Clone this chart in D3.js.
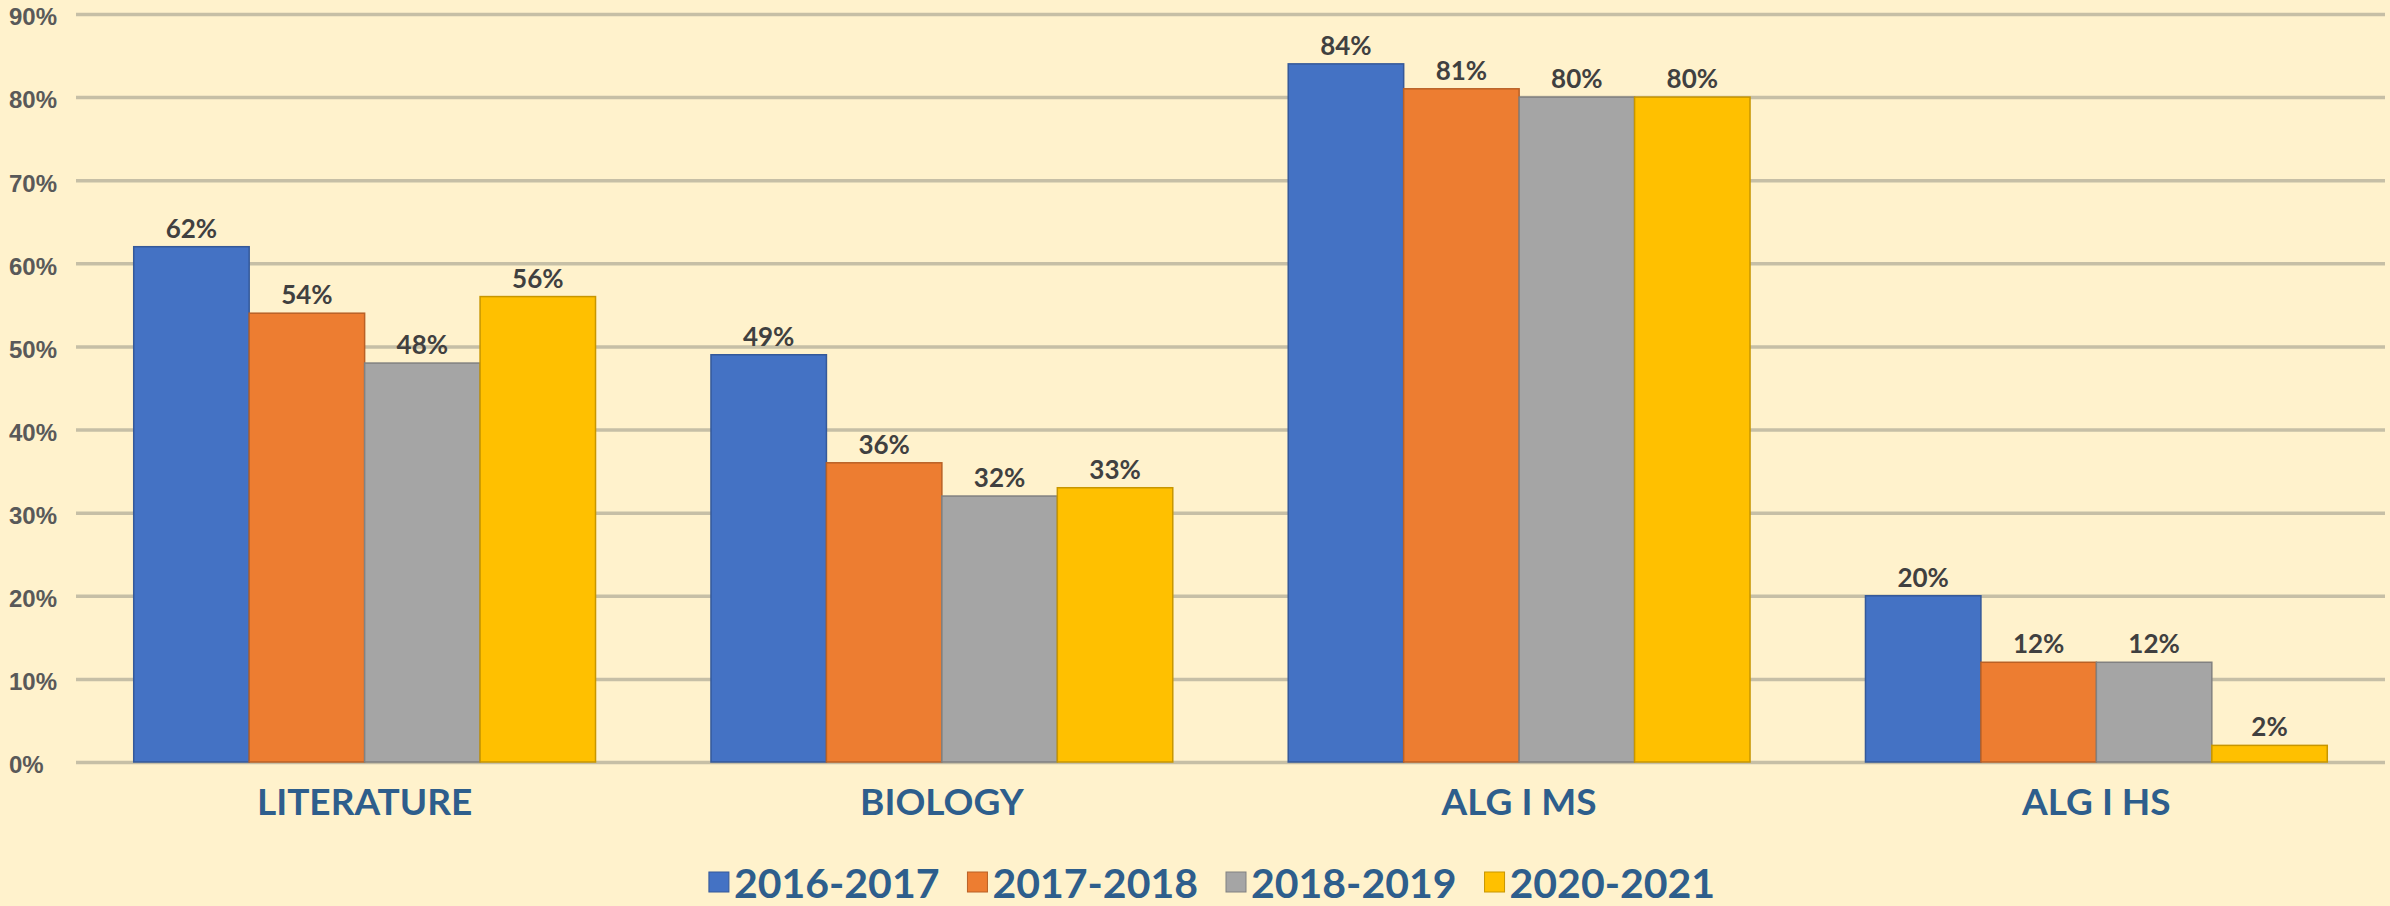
<!DOCTYPE html>
<html>
<head>
<meta charset="utf-8">
<script src="https://cdn.jsdelivr.net/npm/d3@7"></script>
<style>
  body { margin: 0; background: #FFF2CC; }
  svg { display: block; font-family: Lato, "Open Sans", sans-serif; }
</style>
</head>
<body>
<svg width="2390" height="906"></svg>
<script>
var categories = ["LITERATURE", "BIOLOGY", "ALG I MS", "ALG I HS"];
var seriesNames = ["2016-2017", "2017-2018", "2018-2019", "2020-2021"];
var colors = ["#4472C4", "#ED7D31", "#A5A5A5", "#FFC000"];
var values1617 = [62, 49, 84, 20];
var values1718 = [54, 36, 81, 12];
var values1819 = [48, 32, 80, 12];
var values2021 = [56, 33, 80, 2];
var yTicks = [0, 10, 20, 30, 40, 50, 60, 70, 80, 90];

var allValues = [values1617, values1718, values1819, values2021];

var svg = d3.select("svg"),
    margin = {top: 14, right: 5, bottom: 144, left: 76},
    width = +svg.attr("width") - margin.left - margin.right,
    height = +svg.attr("height") - margin.top - margin.bottom,
    g = svg.append("g").attr("transform", "translate(" + margin.left + "," + margin.top + ")");

svg.insert("rect", ":first-child")
    .attr("width", +svg.attr("width"))
    .attr("height", +svg.attr("height"))
    .attr("fill", "#FFF2CC");

var x0 = d3.scaleBand()
    .domain(categories)
    .range([0, width])
    .paddingInner(0.2)
    .paddingOuter(0.1);

var x1 = d3.scaleBand()
    .domain(seriesNames)
    .range([0, x0.bandwidth()]);

var y = d3.scaleLinear()
    .domain([0, 90])
    .range([height, 0]);

// gridlines + tick labels
var yAxis = g.append("g")
    .attr("class", "axis")
    .call(d3.axisLeft(y).tickValues(yTicks).tickSize(-width).tickFormat(function(d) { return d + "%"; }));
yAxis.select(".domain").remove();
yAxis.selectAll(".tick line")
    .attr("stroke", "#C6BFA6")
    .attr("stroke-width", 3.5);
yAxis.selectAll(".tick text")
    .attr("x", 9 - margin.left)
    .attr("dy", "0.45em")
    .attr("text-anchor", "start")
    .attr("fill", "#595959")
    .attr("font-size", 24)
    .attr("font-weight", "bold");

var groups = g.selectAll(".group")
    .data(categories)
  .enter().append("g")
    .attr("class", "group")
    .attr("transform", function(d) { return "translate(" + x0(d) + ",0)"; });

var cells = groups.selectAll(".cell")
    .data(function(d, i) {
      return seriesNames.map(function(s, j) { return {series: s, idx: j, value: allValues[j][i]}; });
    })
  .enter().append("g")
    .attr("class", "cell");

cells.append("rect")
    .attr("x", function(d) { return x1(d.series); })
    .attr("y", function(d) { return y(d.value); })
    .attr("width", x1.bandwidth())
    .attr("height", function(d) { return height - y(d.value); })
    .attr("fill", function(d) { return colors[d.idx]; })
    .attr("stroke", function(d) { return d3.color(colors[d.idx]).darker(0.7); })
    .attr("stroke-width", 1.5);

cells.append("text")
    .attr("x", function(d) { return x1(d.series) + x1.bandwidth() / 2; })
    .attr("y", function(d) { return y(d.value) - 9; })
    .attr("text-anchor", "middle")
    .attr("fill", "#404040")
    .attr("font-size", 26)
    .attr("font-weight", "bold")
    .text(function(d) { return d.value + "%"; });

groups.append("text")
    .attr("x", x0.bandwidth() / 2)
    .attr("y", height + 53)
    .attr("text-anchor", "middle")
    .attr("fill", "#2E5E8C")
    .attr("font-size", 37)
    .attr("font-weight", "bold")
    .text(function(d) { return d; });

// legend
var legend = svg.append("g").attr("class", "legend");
var item = legend.selectAll(".item")
    .data(seriesNames)
  .enter().append("g")
    .attr("class", "item");
item.append("rect")
    .attr("y", 872)
    .attr("width", 20)
    .attr("height", 20)
    .attr("fill", function(d, i) { return colors[i]; })
    .attr("stroke", function(d, i) { return d3.color(colors[i]).darker(0.7); })
    .attr("stroke-width", 1);
item.append("text")
    .attr("x", 25)
    .attr("y", 898)
    .attr("fill", "#2E5E8C")
    .attr("font-size", 41)
    .attr("font-weight", "bold")
    .text(function(d) { return d; });

var offset = 0, widths = [];
item.each(function() {
  widths.push(25 + this.querySelector("text").getComputedTextLength());
});
var total = d3.sum(widths) + 28 * (widths.length - 1);
var startX = 1212 - total / 2;
item.attr("transform", function(d, i) {
  var t = "translate(" + (startX + offset) + ",0)";
  offset += widths[i] + 28;
  return t;
});
</script>
</body>
</html>
